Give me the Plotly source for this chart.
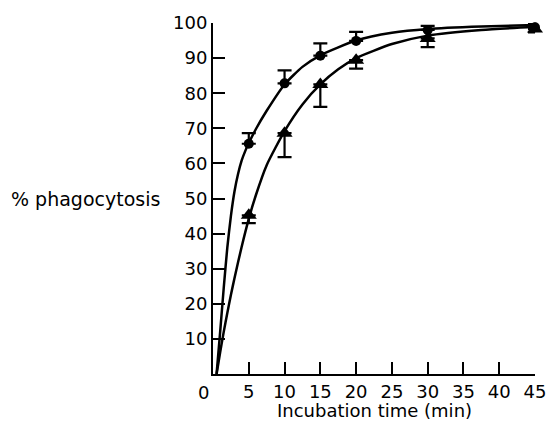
import plotly.graph_objects as go

time_min = [5, 10, 15, 20, 30, 45]
circle_pct = [65.6, 82.8, 90.7, 94.9, 98.0, 98.8]
circle_err_up = [3.0, 3.7, 3.5, 2.6, 1.2, 1.0]
triangle_pct = [45.2, 68.6, 82.5, 89.4, 95.6, 98.3]
triangle_err_down = [2.2, 6.8, 6.4, 2.4, 2.5, 1.0]

# Fitted curves
curve_up_t = [0.5, 1.0, 1.5, 2.0, 2.5, 3.0, 3.5, 4.0, 4.5, 5, 6, 7.5, 10, 12.5, 15, 20, 25, 30, 37.5, 45]
curve_up_y = [0, 12.0, 24.5, 36.0, 45.0, 52.0, 57.0, 60.8, 63.5, 65.8, 69.8, 75.0, 82.5, 87.5,
              90.8, 95.0, 97.2, 98.3, 99.0, 99.4]
curve_lo_t = [0.5, 1.0, 1.5, 2.0, 2.5, 3.0, 4.0, 5, 6, 7.5, 10, 12.5, 15, 17.5, 20, 25, 30, 37.5, 45]
curve_lo_y = [0, 6.2, 12.0, 17.4, 22.5, 27.3, 36.2, 44.2, 51.0, 59.5, 69.2, 76.8, 82.5, 86.8,
              90.0, 94.0, 96.4, 98.0, 98.9]

x_ticks = [0, 5, 10, 15, 20, 25, 30, 35, 40, 45]
y_ticks = [10, 20, 30, 40, 50, 60, 70, 80, 90, 100]

FONT = "DejaVu Sans"

fig = go.Figure()
for ct, cy in ((curve_up_t, curve_up_y), (curve_lo_t, curve_lo_y)):
    fig.add_trace(go.Scatter(x=ct, y=cy, mode="lines",
                             line=dict(color="black", width=2.5, shape="spline", smoothing=0.6),
                             cliponaxis=False, hoverinfo="skip"))
fig.add_trace(go.Scatter(x=time_min, y=circle_pct, mode="markers",
                         marker=dict(symbol="circle", size=10, color="black"),
                         error_y=dict(type="data", array=circle_err_up,
                                      arrayminus=[0] * len(circle_err_up),
                                      symmetric=False, color="black", thickness=2.2, width=7),
                         cliponaxis=False))
fig.add_trace(go.Scatter(x=time_min, y=triangle_pct, mode="markers",
                         marker=dict(symbol="triangle-up", size=14, color="black"),
                         error_y=dict(type="data", array=[0] * len(triangle_err_down),
                                      arrayminus=triangle_err_down,
                                      symmetric=False, color="black", thickness=2.2, width=7),
                         cliponaxis=False))

fig.update_layout(
    width=558, height=426,
    margin=dict(l=213, r=23, t=16, b=52),
    paper_bgcolor="white", plot_bgcolor="white",
    showlegend=False,
    font=dict(family=FONT, color="black", size=18),
    xaxis=dict(range=[0, 45], tickvals=x_ticks[1:], ticktext=[str(v) for v in x_ticks[1:]],
               ticks="inside", ticklen=12, tickwidth=2, tickcolor="black",
               showline=True, linewidth=2, linecolor="black", showgrid=False,
               zeroline=False, tickfont=dict(size=18, family=FONT)),
    yaxis=dict(range=[0, 100], tickvals=y_ticks, ticktext=[str(v) for v in y_ticks],
               ticks="inside", ticklen=12, tickwidth=2, tickcolor="black",
               showline=True, linewidth=2, linecolor="black", showgrid=False,
               zeroline=False, tickfont=dict(size=18, family=FONT)),
    annotations=[
        dict(text="Incubation time (min)", xref="paper", yref="paper",
             x=0.5, y=-0.103, xanchor="center", yanchor="middle",
             showarrow=False, font=dict(size=18, family=FONT)),
        dict(text="% phagocytosis", xref="paper", yref="paper",
             x=-0.158, y=0.5, xanchor="right", yanchor="middle",
             showarrow=False, font=dict(size=19, family=FONT)),
        dict(text=str(x_ticks[0]), xref="x", yref="paper", x=x_ticks[0], y=0,
             xanchor="center", yanchor="top", xshift=-10, yshift=-6,
             showarrow=False, font=dict(size=18, family=FONT)),
    ],
)

fig.write_html("out.html")
